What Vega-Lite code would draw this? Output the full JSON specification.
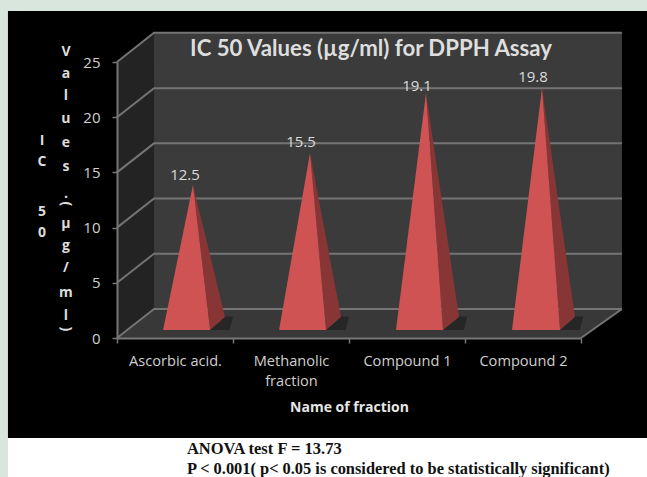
{
"$schema":"https://vega.github.io/schema/vega-lite/v6.json",
"width":464,"height":276,
"autosize":{"type":"none"},
"padding":{"left":117,"top":62,"right":66,"bottom":139},
"background":"#d9e6dd",
"config":{"view":{"stroke":null}},
"datasets":{
"fractions":[
{"fraction":"Ascorbic acid.","value":12.5,"labelLevel":14.76},
{"fraction":"Methanolic fraction","value":15.5,"labelLevel":17.75},
{"fraction":"Compound 1","value":19.1,"labelLevel":22.83},
{"fraction":"Compound 2","value":19.8,"labelLevel":23.64}],
"panels":[
{"panel":"frame","u0":-0.94,"u1":4.57,"l0":-9.06,"l1":29.62},
{"panel":"note","u0":-0.94,"u1":4.57,"l0":-12.7,"l1":-9.06},
{"panel":"back","u0":0.319,"u1":4.353,"l0":2.63,"l1":27.65}],
"planes":[
{"plane":"left","u":0,"hi":25,"lo":0},{"plane":"left","u":0.319,"hi":27.65,"lo":2.63},
{"plane":"floor","u":0,"hi":0,"lo":0},{"plane":"floor","u":0.319,"hi":2.63,"lo":0},{"plane":"floor","u":4,"hi":2.63,"lo":0},{"plane":"floor","u":4.353,"hi":2.63,"lo":2.63}],
"grid":[
{"g":"0","u":0,"l":0},{"g":"0","u":0.319,"l":2.63},{"g":"0","u":4.353,"l":2.63},
{"g":"5","u":0,"l":5},{"g":"5","u":0.319,"l":7.63},{"g":"5","u":4.353,"l":7.63},
{"g":"10","u":0,"l":10},{"g":"10","u":0.319,"l":12.63},{"g":"10","u":4.353,"l":12.63},
{"g":"15","u":0,"l":15},{"g":"15","u":0.319,"l":17.63},{"g":"15","u":4.353,"l":17.63},
{"g":"20","u":0,"l":20},{"g":"20","u":0.319,"l":22.63},{"g":"20","u":4.353,"l":22.63},
{"g":"25","u":0,"l":25},{"g":"25","u":0.319,"l":27.65},{"g":"25","u":4.353,"l":27.65},
{"g":"edge","u":4,"l":0},{"g":"edge","u":4.353,"l":2.63}],
"pyramids":[
{"id":"1s","face":"shadow","u":0.80,"hi":0.73,"lo":0.73},{"id":"1s","face":"shadow","u":0.93,"hi":1.95,"lo":0.73},{"id":"1s","face":"shadow","u":0.97,"hi":1.95,"lo":0.73},{"id":"1s","face":"shadow","u":1.0,"hi":1.95,"lo":1.95},
{"id":"2s","face":"shadow","u":1.80,"hi":0.73,"lo":0.73},{"id":"2s","face":"shadow","u":1.93,"hi":1.95,"lo":0.73},{"id":"2s","face":"shadow","u":1.97,"hi":1.95,"lo":0.73},{"id":"2s","face":"shadow","u":2.0,"hi":1.95,"lo":1.95},
{"id":"3s","face":"shadow","u":2.81,"hi":0.73,"lo":0.73},{"id":"3s","face":"shadow","u":2.95,"hi":1.95,"lo":0.73},{"id":"3s","face":"shadow","u":2.99,"hi":1.95,"lo":0.73},{"id":"3s","face":"shadow","u":3.02,"hi":1.95,"lo":1.95},
{"id":"4s","face":"shadow","u":3.82,"hi":0.73,"lo":0.73},{"id":"4s","face":"shadow","u":3.95,"hi":1.95,"lo":0.73},{"id":"4s","face":"shadow","u":3.99,"hi":1.95,"lo":0.73},{"id":"4s","face":"shadow","u":4.02,"hi":1.95,"lo":1.95},
{"id":"1r","face":"side","u":0.655,"hi":13.86,"lo":13.86},{"id":"1r","face":"side","u":0.802,"hi":7.51,"lo":0.725},{"id":"1r","face":"side","u":0.931,"hi":1.9,"lo":1.9},
{"id":"2r","face":"side","u":1.664,"hi":16.76,"lo":16.76},{"id":"2r","face":"side","u":1.802,"hi":9.09,"lo":0.725},{"id":"2r","face":"side","u":1.931,"hi":1.9,"lo":1.9},
{"id":"3r","face":"side","u":2.664,"hi":22.2,"lo":22.2},{"id":"3r","face":"side","u":2.81,"hi":11.75,"lo":0.725},{"id":"3r","face":"side","u":2.948,"hi":1.9,"lo":1.9},
{"id":"4r","face":"side","u":3.664,"hi":22.64,"lo":22.64},{"id":"4r","face":"side","u":3.819,"hi":11.33,"lo":0.725},{"id":"4r","face":"side","u":3.948,"hi":1.9,"lo":1.9},
{"id":"1f","face":"front","u":0.397,"hi":0.725,"lo":0.725},{"id":"1f","face":"front","u":0.655,"hi":13.86,"lo":0.725},{"id":"1f","face":"front","u":0.802,"hi":0.725,"lo":0.725},
{"id":"2f","face":"front","u":1.397,"hi":0.725,"lo":0.725},{"id":"2f","face":"front","u":1.664,"hi":16.76,"lo":0.725},{"id":"2f","face":"front","u":1.802,"hi":0.725,"lo":0.725},
{"id":"3f","face":"front","u":2.405,"hi":0.725,"lo":0.725},{"id":"3f","face":"front","u":2.664,"hi":22.2,"lo":0.725},{"id":"3f","face":"front","u":2.81,"hi":0.725,"lo":0.725},
{"id":"4f","face":"front","u":3.405,"hi":0.725,"lo":0.725},{"id":"4f","face":"front","u":3.664,"hi":22.64,"lo":0.725},{"id":"4f","face":"front","u":3.819,"hi":0.725,"lo":0.725}],
"letters":[
{"ch":"I","u":-0.647,"l":17.84,"turn":0},{"ch":"C","u":-0.647,"l":15.94,"turn":0},{"ch":"5","u":-0.647,"l":11.41,"turn":0},{"ch":"0","u":-0.647,"l":9.51,"turn":0},
{"ch":"V","u":-0.44,"l":25.91,"turn":0},{"ch":"a","u":-0.44,"l":23.91,"turn":0},{"ch":"l","u":-0.44,"l":21.92,"turn":0},{"ch":"u","u":-0.44,"l":19.84,"turn":0},{"ch":"e","u":-0.44,"l":17.66,"turn":0},{"ch":"s","u":-0.44,"l":15.49,"turn":0},{"ch":".","u":-0.44,"l":13.05,"turn":0},{"ch":"(","u":-0.44,"l":12.14,"turn":90},{"ch":"µ","u":-0.44,"l":10.3,"turn":0},{"ch":"g","u":-0.44,"l":8.33,"turn":0},{"ch":"/","u":-0.44,"l":6.34,"turn":0},{"ch":"m","u":-0.44,"l":4.08,"turn":0},{"ch":"l","u":-0.44,"l":1.99,"turn":0},{"ch":")","u":-0.44,"l":0.82,"turn":90}],
"notes":[
{"line":"ANOVA test F = 13.73","u":0.603,"l":-10.05},
{"line":"P < 0.001( p< 0.05 is considered to be statistically significant)","u":0.603,"l":-11.9}],
"heading":[{"line":"IC 50 Values (µg/ml) for DPPH Assay","u":2.19,"l":26.2}]
},
"layer":[
{"layer":[
{"data":{"name":"panels"},"mark":{"type":"rect"},
 "encoding":{
  "x":{"field":"u0","type":"quantitative","scale":{"domain":[0,4]},"axis":null},
  "x2":{"field":"u1"},
  "y":{"field":"l0","type":"quantitative","scale":{"domain":[0,25],"nice":false,"zero":false},
   "axis":{"title":null,"values":[0,5,10,15,20,25],"zindex":1,"grid":false,"domainColor":"#777777","domainWidth":2,"tickColor":"#777777","tickSize":5,"tickWidth":1.5,"labelColor":"#cfcfcf","labelFont":"Open Sans","labelFontSize":15,"labelPadding":12}},
  "y2":{"field":"l1"},
  "fill":{"field":"panel","type":"nominal","legend":null,"scale":{"domain":["frame","note","back","left","floor","shadow","side","front"],"range":["#000000","#ffffff","#3b3b3b","#232323","#383838","#262626","#873535","#cf5353"]}}}},
{"data":{"name":"planes"},"mark":{"type":"area","orient":"vertical"},
 "encoding":{
  "x":{"field":"u","type":"quantitative","axis":null},
  "y":{"field":"hi","type":"quantitative"},"y2":{"field":"lo"},
  "detail":{"field":"plane"},
  "fill":{"field":"plane","type":"nominal","legend":null}}},
{"data":{"name":"grid"},"mark":{"type":"line","color":"#747474","strokeWidth":2},
 "encoding":{
  "x":{"field":"u","type":"quantitative","axis":null},
  "y":{"field":"l","type":"quantitative"},
  "detail":{"field":"g"}}},
{"data":{"name":"pyramids"},"mark":{"type":"area","orient":"vertical"},
 "encoding":{
  "x":{"field":"u","type":"quantitative","axis":null},
  "y":{"field":"hi","type":"quantitative"},"y2":{"field":"lo"},
  "detail":{"field":"id"},
  "fill":{"field":"face","type":"nominal","legend":null}}},
{"data":{"name":"letters"},"mark":{"type":"text","font":"Open Sans","fontSize":14,"fontWeight":"bold","color":"#dcdcdc","baseline":"middle","align":"center"},
 "encoding":{
  "x":{"field":"u","type":"quantitative","axis":null},
  "y":{"field":"l","type":"quantitative"},
  "text":{"field":"ch"},
  "angle":{"field":"turn","type":"quantitative","scale":null}}},
{"data":{"name":"notes"},"mark":{"type":"text","font":"Liberation Serif","fontWeight":"bold","color":"#111111","baseline":"middle","align":"left"},
 "encoding":{
  "x":{"field":"u","type":"quantitative","axis":null},
  "y":{"field":"l","type":"quantitative"},
  "text":{"field":"line"},
  "size":{"condition":{"test":"datum.l > -11","value":16.5},"value":16.4}}},
{"data":{"name":"heading"},"mark":{"type":"text","font":"Lato","fontSize":22.2,"fontWeight":"bold","color":"#dedede","baseline":"middle","align":"center"},
 "encoding":{
  "x":{"field":"u","type":"quantitative","axis":null},
  "y":{"field":"l","type":"quantitative"},
  "text":{"field":"line"}}}
]},
{"data":{"name":"fractions"},"mark":{"type":"text","font":"Open Sans","fontSize":15,"color":"#dcdcdc","baseline":"middle","dx":10},
 "encoding":{
  "x":{"field":"fraction","type":"nominal","sort":null,"scale":{"paddingInner":0,"paddingOuter":0},
   "axis":{"title":"Name of fraction","titleColor":"#e6e6e6","titleFont":"Open Sans","titleFontSize":14,"titleFontWeight":"bold","titlePadding":13,"labelAngle":0,"labelColor":"#cfcfcf","labelFont":"Open Sans","labelFontSize":14.6,"labelPadding":10,"labelLineHeight":20,"labelExpr":"datum.value == 'Methanolic fraction' ? ['Methanolic','fraction'] : datum.value","tickBand":"extent","tickColor":"#777777","tickSize":5,"tickWidth":1.5,"domainColor":"#777777","domainWidth":2,"zindex":1,"grid":false}},
  "y":{"field":"labelLevel","type":"quantitative"},
  "text":{"field":"value","type":"quantitative","format":".1f"}}}
],
"resolve":{"scale":{"x":"independent"}}
}
